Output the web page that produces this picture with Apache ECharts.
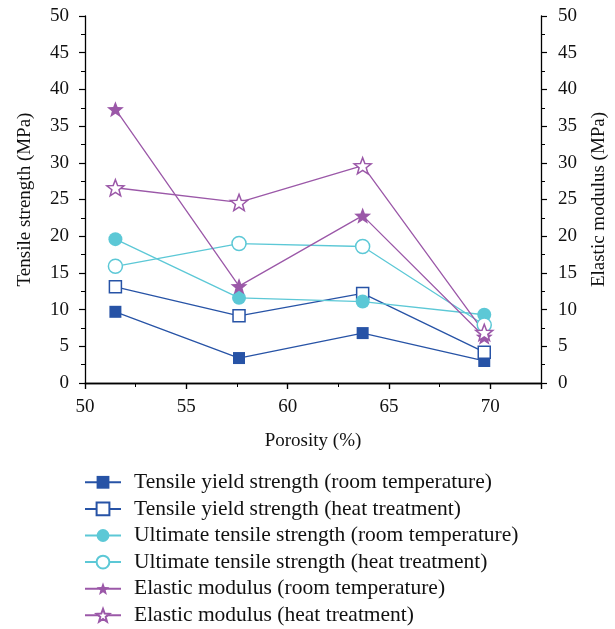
<!DOCTYPE html>
<html>
<head>
<meta charset="utf-8">
<script src="https://cdn.jsdelivr.net/npm/echarts@6/dist/echarts.min.js"></script>
<style>
  html, body { margin: 0; padding: 0; background: #fff; }
  #chart { width: 615px; height: 629px; }
</style>
</head>
<body>
<div id="chart"></div>
<script>
// Porosity of the samples (%)
const porosity = [51.5, 57.6, 63.7, 69.7];

// Tensile strengths (MPa)
const yieldRoom = [9.7, 3.4, 6.8, 3.0];
const yieldHeat = [13.1, 9.15, 12.2, 4.2];
const ultimateRoom = [19.6, 11.6, 11.1, 9.3];
const ultimateHeat = [15.9, 19.0, 18.6, 7.9];

// Elastic modulus (right axis)
const modulusRoom = [37.3, 13.2, 22.8, 6.3];
const modulusHeat = [26.6, 24.6, 29.6, 6.9];

const seriesNames = [
  'Tensile yield strength (room temperature)',
  'Tensile yield strength (heat treatment)',
  'Ultimate tensile strength (room temperature)',
  'Ultimate tensile strength (heat treatment)',
  'Elastic modulus (room temperature)',
  'Elastic modulus (heat treatment)'
];

const BLUE = '#2753a6';
const CYAN = '#5cc8d6';
const PURPLE = '#9b58a8';
const STAR = 'path://M50 0 L62.34 33.01 L97.55 34.55 L69.97 56.49 L79.39 90.45 L50 71 L20.61 90.45 L30.03 56.49 L2.45 34.55 L37.66 33.01 Z';
const FONT = '"Liberation Serif", "DejaVu Serif", serif';

function pairs(values) {
  return porosity.map((p, i) => [p, values[i]]);
}

function makeSeries(name, values, color, symbol, size, filled, yAxisIndex) {
  return {
    name: name,
    type: 'line',
    yAxisIndex: yAxisIndex,
    data: pairs(values),
    symbol: symbol,
    symbolSize: size,
    symbolKeepAspect: true,
    showAllSymbol: true,
    lineStyle: { color: color, width: 1.3 },
    itemStyle: {
      color: filled ? color : '#ffffff',
      borderColor: color,
      borderWidth: filled ? 0 : 1.5
    },
    emphasis: { disabled: true },
    animation: false
  };
}

const chart = echarts.init(document.getElementById('chart'), null, { renderer: 'canvas' });

const axisLine = { show: true, lineStyle: { color: '#000', width: 1.3 } };
const tickLabel = { color: '#111', fontFamily: FONT, fontSize: 19 };

chart.setOption({
  backgroundColor: '#ffffff',
  animation: false,
  grid: { left: 85, right: 74, top: 16, bottom: 246, containLabel: false, outerBoundsMode: 'none' },
  legend: {
    orient: 'vertical',
    left: 79,
    top: 464,
    height: 170,
    itemWidth: 36,
    itemHeight: 16,
    itemGap: 0,
    textStyle: { color: '#111', fontFamily: FONT, fontSize: 21.5, lineHeight: 26.6, padding: [0, 0, 0, 8] },
    data: seriesNames
  },
  xAxis: [
    {
      type: 'value',
      min: 50, max: 72.5, interval: 5,
      name: 'Porosity (%)',
      nameLocation: 'middle',
      nameGap: 49,
      nameTextStyle: { color: '#111', fontFamily: FONT, fontSize: 19 },
      axisLine: axisLine,
      axisTick: { show: true, inside: false, length: 6, lineStyle: { color: '#000', width: 1.2 } },
      minorTick: { show: true, splitNumber: 2, length: 4, lineStyle: { color: '#000', width: 1 } },
      axisLabel: Object.assign({ margin: 15, showMaxLabel: false }, tickLabel),
      splitLine: { show: false }
    },
    {
      type: 'value',
      position: 'top',
      min: 50, max: 72.5, interval: 5,
      axisLine: axisLine,
      axisTick: { show: true, inside: true, length: 6, lineStyle: { color: '#000', width: 1.2 } },
      axisLabel: { show: false },
      splitLine: { show: false }
    }
  ],
  yAxis: [
    {
      type: 'value',
      min: 0, max: 50, interval: 5,
      name: 'Tensile strength (MPa)',
      nameLocation: 'middle',
      nameGap: 50,
      nameTextStyle: { color: '#111', fontFamily: FONT, fontSize: 19 },
      axisLine: axisLine,
      axisTick: { show: true, inside: false, length: 6, lineStyle: { color: '#000', width: 1.2 } },
      minorTick: { show: true, splitNumber: 2, length: 4, lineStyle: { color: '#000', width: 1 } },
      axisLabel: Object.assign({ margin: 16 }, tickLabel),
      splitLine: { show: false }
    },
    {
      type: 'value',
      position: 'right',
      min: 0, max: 50, interval: 5,
      name: 'Elastic modulus (MPa)',
      nameLocation: 'middle',
      nameRotate: 90,
      nameGap: 49,
      nameTextStyle: { color: '#111', fontFamily: FONT, fontSize: 19 },
      axisLine: axisLine,
      axisTick: { show: true, inside: false, length: 6, lineStyle: { color: '#000', width: 1.2 } },
      minorTick: { show: true, splitNumber: 2, length: 4, lineStyle: { color: '#000', width: 1 } },
      axisLabel: Object.assign({ margin: 17 }, tickLabel),
      splitLine: { show: false }
    }
  ],
  series: [
    makeSeries(seriesNames[0], yieldRoom, BLUE, 'rect', 12, true, 0),
    makeSeries(seriesNames[1], yieldHeat, BLUE, 'rect', 12, false, 0),
    makeSeries(seriesNames[2], ultimateRoom, CYAN, 'circle', 14, true, 0),
    makeSeries(seriesNames[3], ultimateHeat, CYAN, 'circle', 14, false, 0),
    makeSeries(seriesNames[4], modulusRoom, PURPLE, STAR, 17, true, 1),
    makeSeries(seriesNames[5], modulusHeat, PURPLE, STAR, 17, false, 1)
  ]
});
</script>
</body>
</html>
